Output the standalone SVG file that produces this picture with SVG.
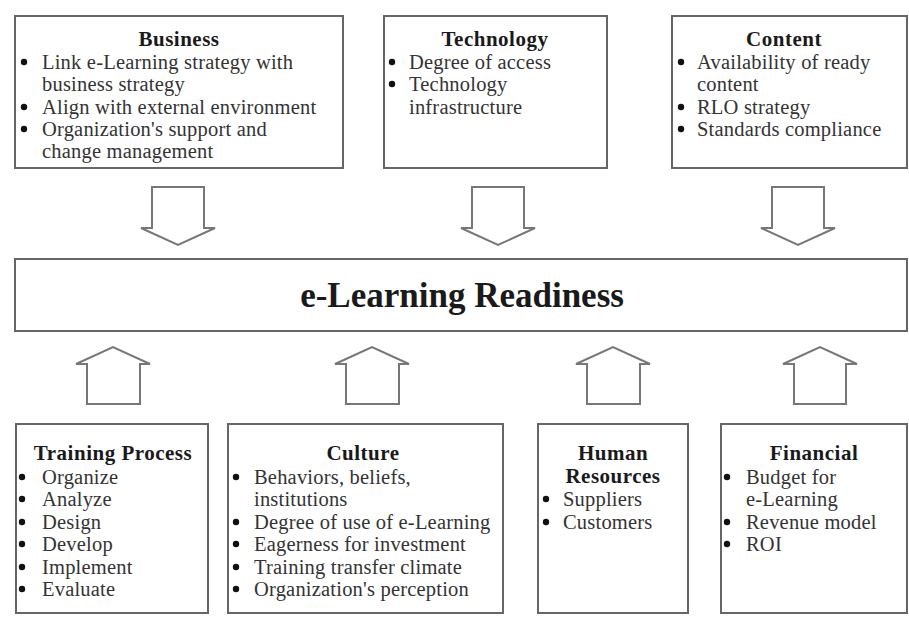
<svg xmlns="http://www.w3.org/2000/svg" width="909" height="618" viewBox="0 0 909 618">
<style>
  .box { fill: #ffffff; stroke: #666666; stroke-width: 2; }
  .arrow { fill: #ffffff; stroke: #777777; stroke-width: 2; stroke-linejoin: miter; }
  .title { font-family: "Liberation Serif", "Times New Roman", serif; font-weight: bold; font-size: 21px; fill: #1a1a1a; text-anchor: middle; letter-spacing: 0.5px; }
  .item { font-family: "Liberation Serif", "Times New Roman", serif; font-size: 20.5px; fill: #333333; letter-spacing: 0.2px; }
  .main { font-family: "Liberation Serif", "Times New Roman", serif; font-weight: bold; font-size: 35px; fill: #1a1a1a; text-anchor: middle; }
  .bullet { fill: #111111; }
</style>
<rect width="909" height="618" fill="#ffffff"/>

<g id="business">
  <rect class="box" x="15" y="16" width="328" height="152"/>
  <text class="title" x="179" y="46">Business</text>
  <circle class="bullet" cx="24" cy="62" r="3.2"/>
  <text class="item" x="42" y="69">Link e-Learning strategy with</text>
  <text class="item" x="42" y="91">business strategy</text>
  <circle class="bullet" cx="24" cy="107" r="3.2"/>
  <text class="item" x="42" y="114">Align with external environment</text>
  <circle class="bullet" cx="24" cy="129" r="3.2"/>
  <text class="item" x="42" y="136">Organization's support and</text>
  <text class="item" x="42" y="158">change management</text>
</g>

<g id="technology">
  <rect class="box" x="384" y="16" width="223" height="152"/>
  <text class="title" x="495" y="46">Technology</text>
  <circle class="bullet" cx="392" cy="62" r="3.2"/>
  <text class="item" x="409" y="69">Degree of access</text>
  <circle class="bullet" cx="392" cy="84" r="3.2"/>
  <text class="item" x="409" y="91">Technology</text>
  <text class="item" x="409" y="114">infrastructure</text>
</g>

<g id="content">
  <rect class="box" x="672" y="16" width="235" height="152"/>
  <text class="title" x="784" y="46">Content</text>
  <circle class="bullet" cx="681" cy="62" r="3.2"/>
  <text class="item" x="697" y="69">Availability of ready</text>
  <text class="item" x="697" y="91">content</text>
  <circle class="bullet" cx="681" cy="107" r="3.2"/>
  <text class="item" x="697" y="114">RLO strategy</text>
  <circle class="bullet" cx="681" cy="129" r="3.2"/>
  <text class="item" x="697" y="136">Standards compliance</text>
</g>

<g id="readiness">
  <rect class="box" x="15" y="259" width="892" height="72"/>
  <text class="main" x="462" y="307">e-Learning Readiness</text>
</g>

<g id="training-process">
  <rect class="box" x="16" y="424" width="192" height="189"/>
  <text class="title" x="113" y="460">Training Process</text>
  <circle class="bullet" cx="22" cy="477" r="3.2"/>
  <text class="item" x="42" y="484">Organize</text>
  <circle class="bullet" cx="22" cy="499" r="3.2"/>
  <text class="item" x="42" y="506">Analyze</text>
  <circle class="bullet" cx="22" cy="522" r="3.2"/>
  <text class="item" x="42" y="529">Design</text>
  <circle class="bullet" cx="22" cy="544" r="3.2"/>
  <text class="item" x="42" y="551">Develop</text>
  <circle class="bullet" cx="22" cy="567" r="3.2"/>
  <text class="item" x="42" y="574">Implement</text>
  <circle class="bullet" cx="22" cy="589" r="3.2"/>
  <text class="item" x="42" y="596">Evaluate</text>
</g>

<g id="culture">
  <rect class="box" x="228" y="424" width="275" height="189"/>
  <text class="title" x="363" y="460">Culture</text>
  <circle class="bullet" cx="236" cy="477" r="3.2"/>
  <text class="item" x="254" y="484">Behaviors, beliefs,</text>
  <text class="item" x="254" y="506">institutions</text>
  <circle class="bullet" cx="236" cy="522" r="3.2"/>
  <text class="item" x="254" y="529">Degree of use of e-Learning</text>
  <circle class="bullet" cx="236" cy="544" r="3.2"/>
  <text class="item" x="254" y="551">Eagerness for investment</text>
  <circle class="bullet" cx="236" cy="567" r="3.2"/>
  <text class="item" x="254" y="574">Training transfer climate</text>
  <circle class="bullet" cx="236" cy="589" r="3.2"/>
  <text class="item" x="254" y="596">Organization's perception</text>
</g>

<g id="human-resources">
  <rect class="box" x="538" y="424" width="150" height="189"/>
  <text class="title" x="613" y="460">Human</text>
  <text class="title" x="613" y="483">Resources</text>
  <circle class="bullet" cx="546" cy="499" r="3.2"/>
  <text class="item" x="563" y="506">Suppliers</text>
  <circle class="bullet" cx="546" cy="522" r="3.2"/>
  <text class="item" x="563" y="529">Customers</text>
</g>

<g id="financial">
  <rect class="box" x="721" y="424" width="186" height="189"/>
  <text class="title" x="814" y="460">Financial</text>
  <circle class="bullet" cx="727" cy="477" r="3.2"/>
  <text class="item" x="746" y="484">Budget for</text>
  <text class="item" x="746" y="506">e-Learning</text>
  <circle class="bullet" cx="727" cy="522" r="3.2"/>
  <text class="item" x="746" y="529">Revenue model</text>
  <circle class="bullet" cx="727" cy="544" r="3.2"/>
  <text class="item" x="746" y="551">ROI</text>
</g>

<g id="connectors">
  <path class="arrow" d="M152,187 H204 V228 H215 L178,245 L141,228 H152 Z"/>
  <path class="arrow" d="M472,187 H524 V228 H535 L498,245 L461,228 H472 Z"/>
  <path class="arrow" d="M772,187 H824 V228 H835 L798,245 L761,228 H772 Z"/>
  <path class="arrow" d="M87,404 V364 H76 L113,347 L150,364 H140 V404 Z"/>
  <path class="arrow" d="M346,404 V364 H335 L372,347 L409,364 H399 V404 Z"/>
  <path class="arrow" d="M587,404 V364 H576 L613,347 L650,364 H640 V404 Z"/>
  <path class="arrow" d="M794,404 V364 H783 L820,347 L857,364 H846 V404 Z"/>
</g>
</svg>
